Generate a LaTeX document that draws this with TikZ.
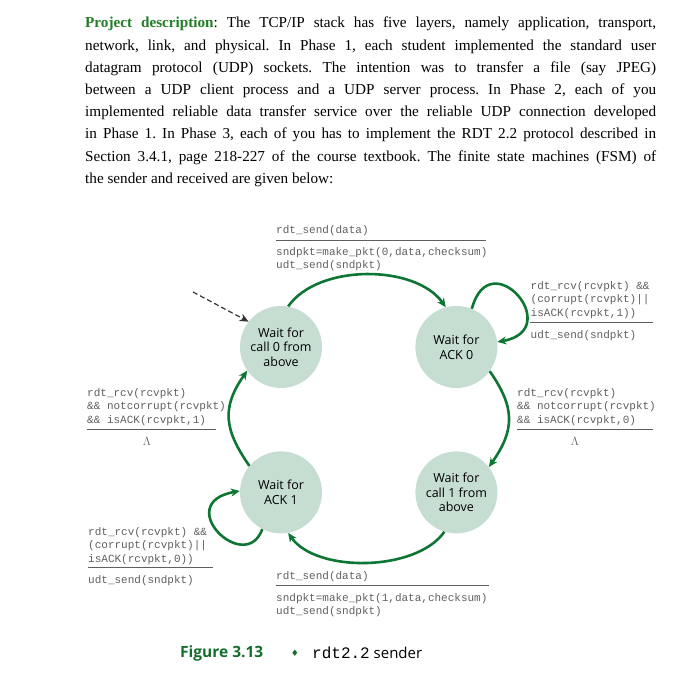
\documentclass[tikz,border=0pt]{standalone}
\usepackage{fontspec}
\setmainfont{Liberation Serif}
\setmonofont{Liberation Mono}
\newfontfamily\statefont{Open Sans}
\newfontfamily\symfont{DejaVu Sans}
\usepackage{xcolor}
\definecolor{descgreen}{RGB}{34,125,40}
\definecolor{arcgreen}{RGB}{12,118,50}
\definecolor{statefill}{RGB}{198,222,210}
\definecolor{labelgray}{RGB}{95,95,95}
\definecolor{figgreen}{RGB}{20,110,45}
\usepackage{tikz}
\usetikzlibrary{positioning,arrows.meta}
\frenchspacing
\newcommand{\fullline}[1]{\makebox[571pt][s]{#1}}
\tikzset{
  desc/.style={font=\fontsize{15.2}{22.2}\selectfont,align=left,inner sep=0pt,anchor=north west},
  fsmstate/.style={circle,fill=statefill,minimum size=82pt,inner sep=0pt,align=center,
    font=\statefont\fontsize{12.5}{14.7}\selectfont},
  trans/.style={-{Stealth[length=9pt,width=8pt]},draw=arcgreen,line width=2.6pt},
  initarr/.style={-{Stealth[length=9pt,width=8pt]},draw=black!80,dash pattern=on 5pt off 3pt,line width=1.2pt},
  act/.style={font=\ttfamily\fontsize{11}{13.7}\selectfont,text=labelgray,align=left,
    inner sep=0pt,anchor=north west},
  rule/.style={draw=labelgray,line width=0.8pt},
  nullact/.style={text=labelgray,inner sep=0pt,font=\fontsize{12}{14}\selectfont},
}
\begin{document}
\begin{tikzpicture}[x=1pt,y=1pt]
  \useasboundingbox (0,0) rectangle (700,678);
  % project text
  \node[desc] (intro) at (85,661) {%
    \fullline{{\bfseries\color{descgreen}Project description}: The TCP/IP stack has five layers, namely application, transport,}\\
    \fullline{network, link, and physical. In Phase 1, each student implemented the standard user}\\
    \fullline{datagram protocol (UDP) sockets. The intention was to transfer a file (say JPEG)}\\
    \fullline{between a UDP client process and a UDP server process. In Phase 2, each of you}\\
    \fullline{implemented reliable data transfer service over the reliable UDP connection developed}\\
    \fullline{in Phase 1. In Phase 3, each of you has to implement the RDT 2.2 protocol described in}\\
    \fullline{Section 3.4.1, page 218-227 of the course textbook. The finite state machines (FSM) of}\\
    the sender and received are given below:};
  % states
  \node[fsmstate] (w0) at (281,331) {Wait for\\call 0 from\\above};
  \node[fsmstate,right=93pt of w0] (a0) {Wait for\\ACK 0};
  \node[fsmstate,below=63pt of w0] (a1) {Wait for\\ACK 1};
  \node[fsmstate,below=63pt of a0] (w1) {Wait for\\call 1 from\\above};
  \coordinate (init) at (193,386);
  \draw[initarr] (init) -- (w0.142);
  % transitions
  \draw[trans] (w0.80) to[out=55,in=125,looseness=0.85] (a0.105);
  \draw[trans] (a0.68) .. controls +(75:70) and +(10:70) .. (a0.7);
  \draw[trans] (a0.-36) to[out=-55,in=55,looseness=1.2] (w1.38);
  \draw[trans] (w1.253) to[out=-125,in=-55,looseness=0.8] (a1.280);
  \draw[trans] (a1.243) .. controls +(250:50) and +(190:70) .. (a1.178);
  \draw[trans] (a1.140) to[out=125,in=235,looseness=1.2] (w0.215);
  % labels
  \node[act] (ev0) at (276,453) {rdt\_send(data)};
  \draw[rule] (276,438) -- (486,438);
  \node[act] (ac0) at (276,431) {sndpkt=make\_pkt(0,data,checksum)\\udt\_send(sndpkt)};
  \node[act] (ev1) at (530.5,397) {rdt\_rcv(rcvpkt) \&\&\\(corrupt(rcvpkt)||\\isACK(rcvpkt,1))};
  \draw[rule] (530,356) -- (653,356);
  \node[act] (ac1) at (530.5,348) {udt\_send(sndpkt)};
  \node[act] (ev2) at (87,290) {rdt\_rcv(rcvpkt)\\\&\& notcorrupt(rcvpkt)\\\&\& isACK(rcvpkt,1)};
  \draw[rule] (87,249) -- (216,249);
  \node[nullact] (ac2) at (147,237) {$\Lambda$};
  \node[act] (ev3) at (517,290) {rdt\_rcv(rcvpkt)\\\&\& notcorrupt(rcvpkt)\\\&\& isACK(rcvpkt,0)};
  \draw[rule] (517,249) -- (653,249);
  \node[nullact] (ac3) at (575,237) {$\Lambda$};
  \node[act] (ev4) at (88,151) {rdt\_rcv(rcvpkt) \&\&\\(corrupt(rcvpkt)||\\isACK(rcvpkt,0))};
  \draw[rule] (88,111) -- (213,111);
  \node[act] (ac4) at (88,103) {udt\_send(sndpkt)};
  \node[act] (ev5) at (276,107) {rdt\_send(data)};
  \draw[rule] (276,93) -- (489,93);
  \node[act] (ac5) at (276,85) {sndpkt=make\_pkt(1,data,checksum)\\udt\_send(sndpkt)};
  % caption
  \node[anchor=west,inner sep=0pt,text=figgreen,font=\statefont\bfseries\fontsize{15.5}{18}\selectfont] (capfig) at (180,25) {Figure 3.13};
  \node[text=figgreen,inner sep=0pt,font=\symfont\fontsize{9}{10}\selectfont] (capdia) at (295,25) {♦};
  \node[anchor=west,inner sep=0pt,font=\statefont\fontsize{15}{18}\selectfont] (captxt) at (312,25) {{\ttfamily\fontsize{16}{18}\selectfont rdt2.2} sender};
\end{tikzpicture}
\end{document}
